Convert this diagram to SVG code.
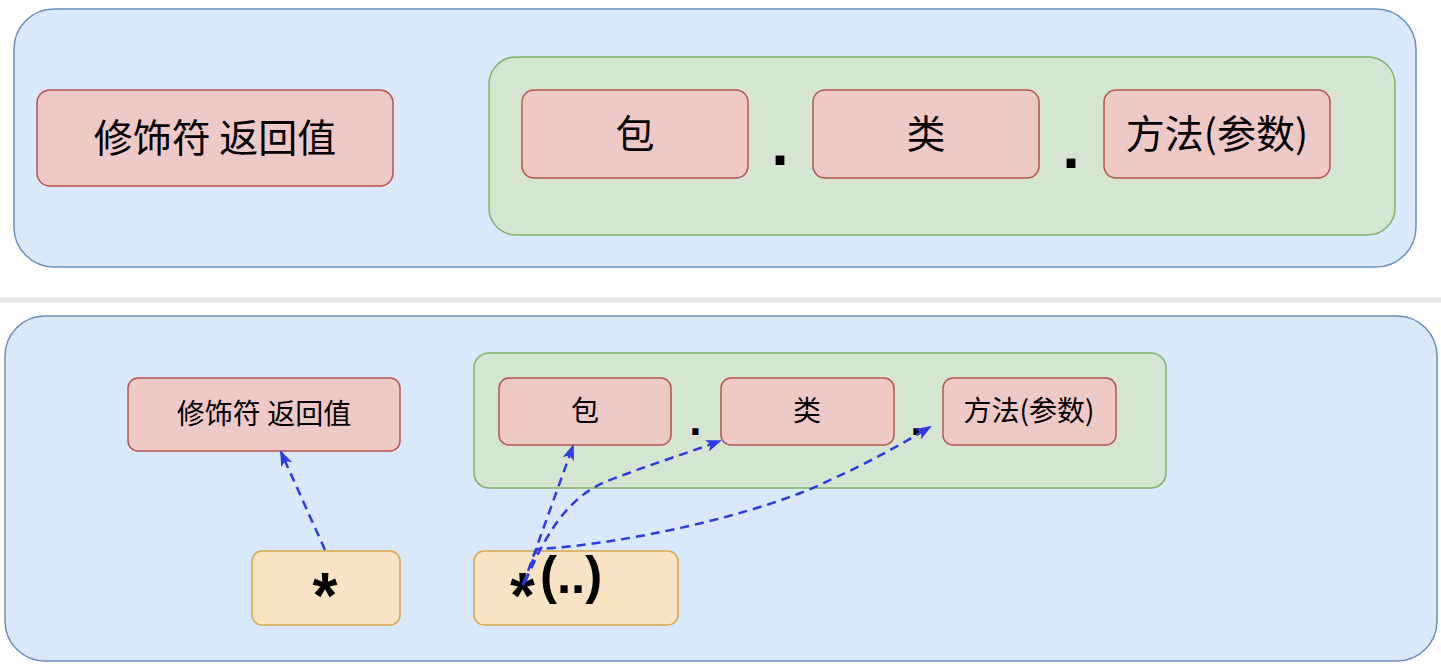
<svg xmlns="http://www.w3.org/2000/svg" width="1441" height="668" viewBox="0 0 1441 668">
<defs>
<style>
.outer{fill:#dae8fc;stroke:#6c8ebf;stroke-width:1.5}
.grp{fill:#d5e5d1;stroke:#82b366;stroke-width:1.5}
.pink{fill:#efc9c6;stroke:#b85450;stroke-width:1.5}
.yel{fill:#f8e3c5;stroke:#d6a84a;stroke-width:1.5}
.cjk{font-family:"Noto Sans CJK SC","Noto Sans",sans-serif;fill:#000;text-anchor:middle}
.big{font-size:39px}
.small{font-size:28px}
.dot{font-family:"DejaVu Sans",sans-serif;font-weight:bold;fill:#000}
.star{font-family:"Liberation Sans",Arial,sans-serif;fill:#000;font-size:51px;font-weight:bold}
.ast{font-size:64px}
.edge{fill:none;stroke:#2c3be6;stroke-width:2.5;stroke-dasharray:9 6;marker-end:url(#arr)}
</style>
<marker id="arr" markerUnits="userSpaceOnUse" markerWidth="16" markerHeight="12" refX="14" refY="6" orient="auto" viewBox="0 0 16 12">
<path d="M0,0 L16,6 L0,12 L4,6 Z" fill="#2c3be6"/>
</marker>
</defs>
<rect x="0" y="0" width="1441" height="668" fill="#ffffff"/>
<rect x="0" y="297" width="1441" height="6" fill="#e9e9e9"/>

<g id="top-container"><rect class="outer" x="14" y="9" width="1402" height="258" rx="40" ry="40"/></g>
<g id="top-left-node"><rect class="pink" x="37" y="90" width="356" height="96" rx="13" ry="13"/><text class="cjk big" x="215" y="152">修饰符 返回值</text></g>
<g id="top-group"><rect class="grp" x="489" y="57" width="906" height="178" rx="27" ry="27"/></g>
<g id="top-pkg"><rect class="pink" x="522" y="90" width="226" height="88" rx="12" ry="12"/><text class="cjk big" x="635" y="148">包</text></g>
<g id="top-cls"><rect class="pink" x="813" y="90" width="226" height="88" rx="12" ry="12"/><text class="cjk big" x="926" y="148">类</text></g>
<g id="top-method"><rect class="pink" x="1104" y="90" width="226" height="88" rx="12" ry="12"/><text class="cjk big" x="1217" y="148">方法(参数)</text></g>
<g id="top-dot1"><text class="dot" x="770.5" y="165" font-size="50">.</text></g>
<g id="top-dot2"><text class="dot" x="1061.5" y="168" font-size="50">.</text></g>

<g id="bottom-container"><rect class="outer" x="5" y="316" width="1432" height="345" rx="40" ry="40"/></g>
<g id="bottom-left-node"><rect class="pink" x="128" y="378" width="272" height="73" rx="10" ry="10"/><text class="cjk small" x="264" y="424">修饰符 返回值</text></g>
<g id="bottom-group"><rect class="grp" x="474" y="353" width="692" height="135" rx="15" ry="15"/></g>
<g id="bottom-pkg"><rect class="pink" x="499" y="378" width="172" height="67" rx="10" ry="10"/><text class="cjk small" x="585" y="421">包</text></g>
<g id="bottom-cls"><rect class="pink" x="721" y="378" width="173" height="67" rx="10" ry="10"/><text class="cjk small" x="807" y="421">类</text></g>
<g id="bottom-method"><rect class="pink" x="943" y="378" width="173" height="67" rx="10" ry="10"/><text class="cjk small" x="1029" y="421">方法(参数)</text></g>
<g id="bottom-dot1"><text class="dot" x="688.8" y="435" font-size="35">.</text></g>
<g id="bottom-dot2"><text class="dot" x="909.8" y="435" font-size="35">.</text></g>
<g id="star-node"><rect class="yel" x="252" y="551" width="148" height="74" rx="10" ry="10"/><text class="star ast" x="325" y="618" text-anchor="middle">*</text></g>
<g id="star-args-node"><rect class="yel" x="474" y="551" width="204" height="74" rx="10" ry="10"/><text class="star" x="510" y="593"><tspan class="ast" dy="25">*</tspan><tspan dx="5" dy="-25">(..)</tspan></text></g>

<g id="connectors">
<path class="edge" d="M325,550 L281,452"/>
<path class="edge" d="M523,585 L573,446"/>
<path class="edge" d="M525,582 L537,556 C555,520 575,495 605,482 C640,468 690,452 720,441"/>
<path class="edge" d="M525,582 L537,549 C620,545 760,515 830,480 C870,462 900,445 930,427"/>
</g>
</svg>
